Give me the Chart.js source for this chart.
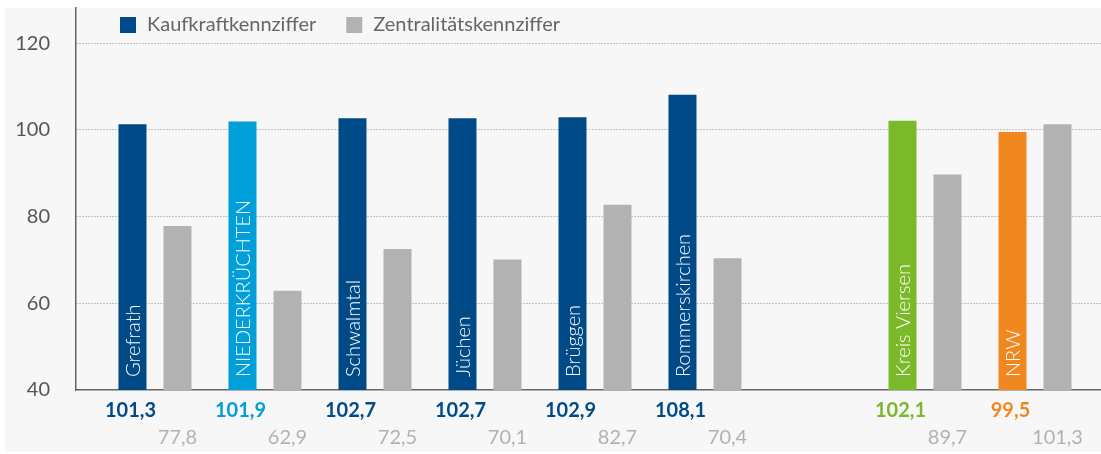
<!DOCTYPE html>
<html>
<head>
<meta charset="utf-8">
<script src="https://cdn.jsdelivr.net/npm/chart.js@4"></script>
<style>
  html, body { margin: 0; padding: 0; background: #fff; }
  #wrap { width: 1101px; height: 454px; }
</style>
</head>
<body>
<div id="wrap"><canvas id="kennziffern"></canvas></div>
<script>
const categories = ['Grefrath', 'NIEDERKRÜCHTEN', 'Schwalmtal', 'Jüchen', 'Brüggen', 'Rommerskirchen', '', 'Kreis Viersen', 'NRW'];
const kaufkraft = [101.3, 101.9, 102.7, 102.7, 102.9, 108.1, null, 102.1, 99.5];
const zentralitaet = [77.8, 62.9, 72.5, 70.1, 82.7, 70.4, null, 89.7, 101.3];
const kaufkraftColors = ['#004b87', '#009fd9', '#004b87', '#004b87', '#004b87', '#004b87', null, '#7ab92a', '#f0871f'];
const zentralColor = '#b2b2b2';
const yTicks = [40, 60, 80, 100, 120];

const FONT = 'Lato, "Open Sans", sans-serif';

function fmt(v) {
  return v.toFixed(1).replace('.', ',');
}

// grauer Hintergrund, Legende und Beschriftungen
const decorations = {
  id: 'decorations',
  beforeDraw(chart) {
    const ctx = chart.ctx;
    ctx.save();
    ctx.fillStyle = '#ffffff';
    ctx.fillRect(0, 0, chart.width, chart.height);
    ctx.fillStyle = '#f7f7f7';
    ctx.fillRect(5, 8, chart.width - 5, chart.height - 10);
    ctx.restore();
  },
  afterDatasetsDraw(chart) {
    const ctx = chart.ctx;
    const area = chart.chartArea;
    const bars = chart.getDatasetMeta(0).data;
    const grays = chart.getDatasetMeta(1).data;
    ctx.save();

    // Legende
    ctx.font = '20px ' + FONT;
    ctx.textBaseline = 'middle';
    let lx = area.left + 44;
    chart.data.datasets.forEach((ds, i) => {
      ctx.fillStyle = i === 0 ? '#004b87' : zentralColor;
      ctx.fillRect(lx, 17, 16, 16);
      ctx.fillStyle = '#666';
      ctx.textAlign = 'left';
      ctx.fillText(ds.label, lx + 27, 25);
      lx += 27 + ctx.measureText(ds.label).width + 30;
    });

    categories.forEach((name, i) => {
      const bar = bars[i];
      if (kaufkraft[i] === null || !bar) return;
      // Name senkrecht im Balken
      ctx.save();
      ctx.translate(bar.x + 1, area.bottom - 13);
      ctx.rotate(-Math.PI / 2);
      ctx.font = '300 20px ' + FONT;
      ctx.fillStyle = '#fff';
      ctx.textAlign = 'left';
      ctx.textBaseline = 'middle';
      ctx.fillText(name, 0, 0);
      ctx.restore();

      // Werte unter der Achse
      ctx.textAlign = 'center';
      ctx.textBaseline = 'middle';
      ctx.font = 'bold 20px ' + FONT;
      ctx.fillStyle = kaufkraftColors[i];
      ctx.fillText(fmt(kaufkraft[i]), bar.x - 2, area.bottom + 21);
      ctx.font = '20px ' + FONT;
      ctx.fillStyle = zentralColor;
      ctx.fillText(fmt(zentralitaet[i]), grays[i].x, area.bottom + 48);
    });
    ctx.restore();
  }
};

const ctx = document.getElementById('kennziffern').getContext('2d');

const chart = new Chart(ctx, {
  type: 'bar',
  data: {
    datasets: [{
      label: 'Kaufkraftkennziffer',
      data: categories.map((c, i) => ({ x: i, y: kaufkraft[i] })),
      backgroundColor: kaufkraftColors,
      borderWidth: 0
    }, {
      label: 'Zentralitätskennziffer',
      data: categories.map((c, i) => ({ x: i, y: zentralitaet[i] })),
      backgroundColor: zentralColor,
      borderWidth: 0
    }]
  },
  options: {
    responsive: true,
    maintainAspectRatio: false,
    animation: false,
    categoryPercentage: 90 / 110,
    barPercentage: 28 / 45,
    layout: { padding: { top: 8, right: 0, bottom: 64, left: 0 } },
    plugins: {
      legend: { display: false },
      tooltip: { enabled: false }
    },
    scales: {
      x: {
        type: 'linear',
        offset: false,
        min: -0.718,
        max: 8.6,
        grid: { display: false },
        ticks: { display: false, stepSize: 1, includeBounds: false },
        border: { display: true, color: '#666', width: 1.5 },
        afterFit(s) { s.height = 0; }
      },
      y: {
        min: 40,
        max: 128.1,
        afterBuildTicks(s) { s.ticks = yTicks.map(v => ({ value: v })); },
        ticks: {
          padding: 26,
          color: '#555',
          font: { family: FONT, size: 20 }
        },
        grid: {
          drawTicks: false,
          color: c => (c.tick && c.tick.value === 40) ? 'rgba(0,0,0,0)' : '#8c8c8c',
          lineWidth: 1
        },
        border: { display: true, color: '#666', width: 1.5, dash: [1, 2] },
        afterFit(s) {
          s.width = 76;
          s.paddingTop = 0;
          s.paddingBottom = 0;
        }
      }
    }
  },
  plugins: [decorations]
});
</script>
</body>
</html>
